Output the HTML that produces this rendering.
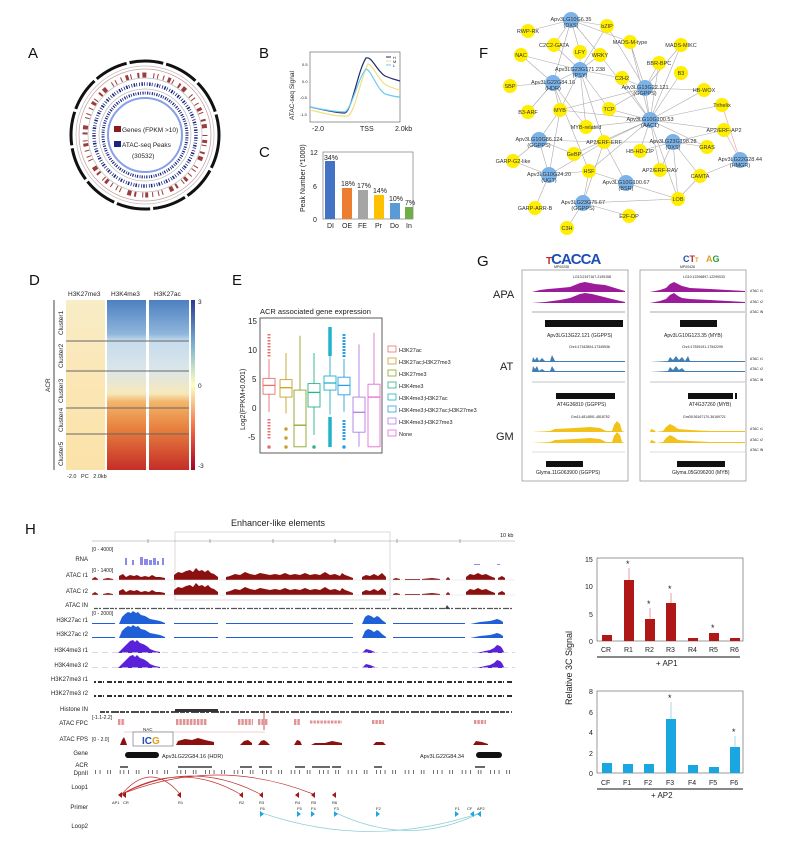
<!DOCTYPE html>
<html><head><meta charset="utf-8"><style>
html,body{margin:0;padding:0;background:#fff;}
svg{display:block;font-family:"Liberation Sans",Arial,sans-serif;}
</style></head><body>
<svg width="800" height="861" viewBox="0 0 800 861" xmlns="http://www.w3.org/2000/svg">
<defs>
<linearGradient id="hm1" x1="0" y1="0" x2="0" y2="1"><stop offset="0" stop-color="#f8edc8"/><stop offset="0.5" stop-color="#fbe6b4"/><stop offset="1" stop-color="#fbe2a8"/></linearGradient>
<linearGradient id="hm2" x1="0" y1="0" x2="0" y2="1">
<stop offset="0" stop-color="#4d7fc0"/><stop offset="0.2" stop-color="#8fb6dc"/><stop offset="0.24" stop-color="#c6dbec"/><stop offset="0.4" stop-color="#d9e5ea"/><stop offset="0.55" stop-color="#f7e8bc"/><stop offset="0.6" stop-color="#f2b56a"/><stop offset="0.75" stop-color="#e8823f"/><stop offset="1" stop-color="#c52d28"/></linearGradient>
<linearGradient id="cb" x1="0" y1="0" x2="0" y2="1"><stop offset="0" stop-color="#313695"/><stop offset="0.25" stop-color="#74add1"/><stop offset="0.5" stop-color="#ffffbf"/><stop offset="0.75" stop-color="#f46d43"/><stop offset="1" stop-color="#a50026"/></linearGradient>
<path id="atac" d="M92,0 L92,-1 L95,-3 L98,-1 L98,0 Z M103,0 L103,-1 L108,-2 L113,-1 L113,0 Z M119,0 L119,-4 L123,-6 L126,-3 L130,-5 L134,-4 L137,-5 L141,-3 L145,-4 L149,-3 L152,-5 L156,-3 L160,-3 L165,-2 L165,0 Z M174,0 L174,-5 L178,-8 L182,-7 L186,-9 L190,-10 L193,-8 L196,-12 L199,-9 L202,-10 L205,-8 L208,-10 L211,-7 L214,-6 L218,-3 L218,0 Z M226,0 L226,-3 L230,-4 L235,-6 L240,-5 L245,-8 L250,-6 L255,-5 L260,-7 L265,-6 L270,-5 L275,-6 L280,-5 L285,-7 L290,-5 L295,-6 L300,-5 L305,-7 L310,-5 L315,-6 L320,-5 L325,-8 L330,-5 L335,-6 L340,-4 L342,-7 L345,-5 L348,-4 L353,-2 L353,0 Z M362,0 L362,-3 L366,-5 L370,-4 L374,-6 L378,-4 L382,-7 L386,-3 L386,0 Z M393,0 L393,-1 L396,-2 L400,-1 L400,0 Z M405,0 L405,-1 L420,-1 L420,0 Z M422,0 L422,-1 L432,-2 L440,-1 L440,0 Z M446,0 L446,-1 L448,-3 L450,-1 L450,0 Z M466,0 L466,-3 L470,-6 L474,-5 L478,-7 L482,-5 L486,-6 L490,-4 L495,-2 L495,0 Z M498,0 L498,-2 L502,-4 L505,-2 L505,0 Z"/>
<path id="k27ac" d="M119,0 L122,-7 L125,-10 L128,-12 L131,-11 L133,-13 L136,-11 L138,-12 L141,-9 L145,-8 L150,-5 L155,-4 L160,-3 L165,-1 L165,0 Z M362,0 L365,-7 L368,-9 L371,-8 L374,-6 L377,-8 L379,-7 L382,-4 L386,-1 L386,0Z M470,0 L480,-2 L490,-3 L494,-4 L497,-5 L500,-4 L503,-2 L503,0Z M174,0 L174,-1 L218,-1 L218,0Z M226,0 L226,-1 L353,-1 L353,0Z M92,0 L92,-1 L115,-1 L115,0Z M393,0 L393,-1 L465,-1 L465,0Z"/>
<path id="k4" d="M118,0 L122,-4 L126,-8 L130,-12 L133,-13 L135,-11 L137,-13 L140,-10 L143,-9 L145,-8 L148,-6 L150,-4 L155,-2 L160,-1 L160,0Z M362,0 L366,-4 L370,-3 L375,-1 L375,0Z M477,0 L485,-2 L490,-3 L494,-5 L497,-8 L500,-7 L502,-5 L504,-1 L504,0Z"/>
</defs>

<!-- Panel labels -->
<g font-size="15" fill="#111">
<text x="28" y="58">A</text><text x="259" y="58">B</text><text x="259" y="157">C</text>
<text x="29" y="285">D</text><text x="232" y="285">E</text><text x="479" y="58">F</text>
<text x="477" y="266">G</text><text x="25" y="534">H</text></g>

<!-- A circos -->
<circle cx="145" cy="135" r="74" fill="none" stroke="#111" stroke-width="3" stroke-dasharray="34 3"/>
<circle cx="145" cy="135" r="69" fill="none" stroke="#bbb" stroke-width="0.7"/>
<circle cx="145" cy="135" r="66" fill="none" stroke="#c99" stroke-width="0.7"/>
<circle cx="145" cy="135" r="60" fill="none" stroke="#8b1a1a" stroke-width="5" stroke-dasharray="1 4 3 2 1 6 2 3 4 7 1 3 1 5" opacity="0.85"/>
<circle cx="145" cy="135" r="57" fill="none" stroke="#bbb" stroke-width="0.7"/>
<circle cx="145" cy="135" r="51" fill="none" stroke="#1a237e" stroke-width="3.5" stroke-dasharray="0.8 1.5 1.5 1.2 0.8 2"/>
<circle cx="145" cy="135" r="46" fill="none" stroke="#bbb" stroke-width="0.7"/>
<circle cx="145" cy="135" r="42" fill="none" stroke="#1a237e" stroke-width="3" stroke-dasharray="0.8 1.5 1.2 1.2"/>
<circle cx="145" cy="135" r="37" fill="#fff" stroke="#8aa0e6" stroke-width="2"/>
<g font-size="6.5" fill="#222">
<rect x="114" y="126" width="7" height="6" fill="#8b1a1a"/><text x="122" y="132">Genes (FPKM &gt;10)</text>
<rect x="114" y="141" width="7" height="6" fill="#1a237e"/><text x="122" y="147">ATAC-seq Peaks</text>
<text x="132" y="158">(30532)</text></g>

<!-- B -->
<g font-size="6" fill="#222">
<rect x="310" y="52" width="90" height="70" fill="none" stroke="#555" stroke-width="0.6"/>
<g font-size="4"><text x="302" y="66">0.5</text><text x="302" y="83">0.0</text><text x="300" y="99">-0.5</text><text x="300" y="116">-1.0</text></g>
<text transform="translate(294,120) rotate(-90)" font-size="6.5">ATAC-seq Signal</text>
<text x="312" y="131" font-size="7">-2.0</text><text x="360" y="131" font-size="7">TSS</text><text x="395" y="131" font-size="7">2.0kb</text>
<path d="M310,107 C320,109 335,113 345,113 C352,110 358,70 366,58 C372,56 376,70 385,76 C392,79 396,80 400,81" fill="none" stroke="#1e2a6a" stroke-width="1.2"/>
<path d="M310,110 C320,112 335,117 348,116 C355,112 360,80 368,64 C374,66 378,80 386,85 C392,88 396,89 400,90" fill="none" stroke="#f0e080" stroke-width="1.2"/>
<path d="M310,107 C320,109 335,112 345,112 C352,108 358,78 366,69 C372,71 376,88 385,94 C392,96 396,97 400,97" fill="none" stroke="#6ccaf0" stroke-width="1.2"/>
<line x1="386" y1="57" x2="391" y2="57" stroke="#1e2a6a"/><text x="393" y="59" font-size="4">H</text>
<line x1="386" y1="61" x2="391" y2="61" stroke="#f0e080"/><text x="393" y="63" font-size="4">M</text>
<line x1="386" y1="65" x2="391" y2="65" stroke="#6ccaf0"/><text x="393" y="67" font-size="4">L</text>
</g>

<!-- C -->
<g font-size="7" fill="#222">
<rect x="323" y="152" width="90" height="67" fill="none" stroke="#666" stroke-width="0.6"/>
<text x="310" y="155">12</text><text x="313" y="189">6</text><text x="313" y="222">0</text>
<text transform="translate(305,212) rotate(-90)">Peak Number (*1000)</text>
<rect x="325" y="161" width="10" height="58" fill="#4472c4"/><text x="324" y="160">34%</text>
<rect x="342" y="188" width="10" height="31" fill="#ed7d31"/><text x="341" y="186">18%</text>
<rect x="358" y="190" width="10" height="29" fill="#a5a5a5"/><text x="357" y="188">17%</text>
<rect x="374" y="195" width="10" height="24" fill="#ffc000"/><text x="373" y="193">14%</text>
<rect x="390" y="203" width="10" height="16" fill="#5b9bd5"/><text x="389" y="201">10%</text>
<rect x="405" y="207" width="8" height="12" fill="#70ad47"/><text x="405" y="205">7%</text>
<text x="327" y="228">DI</text><text x="342" y="228">OE</text><text x="358" y="228">FE</text><text x="375" y="228">Pr</text><text x="390" y="228">Do</text><text x="406" y="228">In</text>
</g>

<!-- D heatmaps -->
<g font-size="6.5" fill="#222">
<text x="68" y="296">H3K27me3</text><text x="111" y="296">H3K4me3</text><text x="154" y="296">H3K27ac</text>
<rect x="66" y="300" width="39" height="170" fill="url(#hm1)"/>
<rect x="107" y="300" width="39" height="170" fill="url(#hm2)"/>
<rect x="149" y="300" width="40" height="170" fill="url(#hm2)"/>
<rect x="191" y="300" width="4" height="170" fill="url(#cb)"/>
<text x="198" y="304">3</text><text x="198" y="388">0</text><text x="198" y="468">-3</text>
<g stroke="#666" stroke-width="1"><line x1="66" y1="341" x2="189" y2="341"/><line x1="66" y1="371" x2="189" y2="371"/><line x1="66" y1="408" x2="189" y2="408"/><line x1="66" y1="434" x2="189" y2="434"/></g>
<line x1="54" y1="300" x2="54" y2="470" stroke="#444" stroke-width="1"/>
<text transform="translate(50,392) rotate(-90)">ACR</text>
<text transform="translate(63,335) rotate(-90)">Cluster1</text>
<text transform="translate(63,368) rotate(-90)">Cluster2</text>
<text transform="translate(63,403) rotate(-90)">Cluster3</text>
<text transform="translate(63,432) rotate(-90)">Cluster4</text>
<text transform="translate(63,466) rotate(-90)">Cluster5</text>
<text x="67" y="478" font-size="5.5">-2.0&#160;&#160;&#160;PC&#160;&#160;&#160;2.0kb</text>
</g>

<!-- E boxplot -->
<g font-size="7" fill="#222">
<text x="260" y="314" font-size="7.5">ACR associated gene expression</text>
<rect x="260" y="318" width="122" height="135" fill="none" stroke="#333" stroke-width="0.8"/>
<text x="248" y="324" font-size="8">15</text><text x="248" y="353" font-size="8">10</text><text x="252" y="382" font-size="8">5</text><text x="252" y="411" font-size="8">0</text><text x="248" y="440" font-size="8">-5</text>
<text transform="translate(245,430) rotate(-90)">Log2(FPKM+0.001)</text>
<g fill="#fff" stroke-width="0.9">
<g stroke="#e8716f"><line x1="269" y1="359" x2="269" y2="412"/><rect x="263" y="378.4" width="12" height="15.8"/><line x1="263" y1="385.4" x2="275" y2="385.4" stroke-width="1.3"/><line x1="269" y1="334" x2="269" y2="357" stroke-width="3" stroke-dasharray="1.5 1.5"/><line x1="269" y1="419" x2="269" y2="440" stroke-width="3" stroke-dasharray="1.5 1.5"/><circle cx="269" cy="447" r="1.3" fill="#e8716f"/></g>
<g stroke="#c9a12a"><line x1="286" y1="353" x2="286" y2="413.5"/><rect x="280" y="379.6" width="12" height="17.5"/><line x1="280" y1="387.7" x2="292" y2="387.7" stroke-width="1.3"/><circle cx="286" cy="429" r="1.3" fill="#c9a12a"/><circle cx="286" cy="438" r="1.3" fill="#c9a12a"/><circle cx="286" cy="447" r="1.3" fill="#c9a12a"/></g>
<g stroke="#8ca62a"><line x1="300" y1="335.7" x2="300" y2="390"/><rect x="294" y="390.1" width="12" height="56.7"/><line x1="294" y1="425.2" x2="306" y2="425.2" stroke-width="1.3"/></g>
<g stroke="#2bb38a"><line x1="314" y1="353" x2="314" y2="435"/><rect x="308" y="383.6" width="12" height="23.4"/><line x1="308" y1="392.4" x2="320" y2="392.4" stroke-width="1.3"/><circle cx="314" cy="447" r="1.3" fill="#2bb38a"/></g>
<g stroke="#1fb3c9"><line x1="330" y1="356" x2="330" y2="414.6"/><rect x="324" y="376" width="12" height="14.1"/><line x1="324" y1="383" x2="336" y2="383" stroke-width="1.3"/><line x1="330" y1="327" x2="330" y2="356" stroke-width="3.5"/><line x1="330" y1="417" x2="330" y2="447" stroke-width="3.5"/></g>
<g stroke="#2e9fe0"><line x1="344" y1="359" x2="344" y2="411.7"/><rect x="338" y="377.2" width="12" height="17.6"/><line x1="338" y1="385.4" x2="350" y2="385.4" stroke-width="1.3"/><line x1="344" y1="334" x2="344" y2="358" stroke-width="3" stroke-dasharray="2 1"/><line x1="344" y1="420" x2="344" y2="440" stroke-width="3" stroke-dasharray="2 1"/><circle cx="344" cy="447" r="1.3" fill="#2e9fe0"/></g>
<g stroke="#b07ee8"><line x1="359" y1="344.4" x2="359" y2="446.8"/><rect x="353" y="397.1" width="12" height="35.1"/><line x1="353" y1="412.3" x2="365" y2="412.3" stroke-width="1.3"/></g>
<g stroke="#e36fd0"><line x1="374" y1="332.7" x2="374" y2="384"/><rect x="368" y="384.2" width="12" height="62.6"/><line x1="368" y1="397.1" x2="380" y2="397.1" stroke-width="1.3"/></g>
</g>
<g font-size="5.5">
<text x="399" y="352">H3K27ac</text><text x="399" y="364">H3K27ac;H3K27me3</text><text x="399" y="376">H3K27me3</text><text x="399" y="388">H3K4me3</text><text x="399" y="400">H3K4me3;H3K27ac</text><text x="399" y="412">H3K4me3;H3K27ac;H3K27me3</text><text x="399" y="424">H3K4me3;H3K27me3</text><text x="399" y="436">None</text></g>
<g fill="none" stroke-width="0.8">
<rect x="388" y="346" width="8" height="6" stroke="#e8716f"/><rect x="388" y="358" width="8" height="6" stroke="#c9a12a"/><rect x="388" y="370" width="8" height="6" stroke="#8ca62a"/><rect x="388" y="382" width="8" height="6" stroke="#2bb38a"/><rect x="388" y="394" width="8" height="6" stroke="#1fb3c9"/><rect x="388" y="406" width="8" height="6" stroke="#2e9fe0"/><rect x="388" y="418" width="8" height="6" stroke="#b07ee8"/><rect x="388" y="430" width="8" height="6" stroke="#e36fd0"/></g>
</g>

<!-- F network -->
<path fill="none" stroke="#aaa" stroke-width="0.6" d="M650,120L600,55M650,120L630,42M650,120L681,45M650,120L659,63M650,120L681,73M650,120L622,78M650,120L704,90M650,120L609,109M650,120L722,105M650,120L586,127M650,120L724,130M650,120L604,142M650,120L707,147M650,120L640,151M650,120L589,171M650,120L660,170M650,120L678,199M650,120L560,110M650,120L574,154M650,120L645,88
M645,88L607,26M645,88L630,42M645,88L681,45M645,88L659,63M645,88L704,90M645,88L609,109M645,88L560,110M645,88L622,78
M580,70L554,45M580,70L580,52M580,70L600,55M580,70L607,26M580,70L521,55M580,70L622,78M580,70L560,110M580,70L609,109M580,70L586,127M580,70L604,142M580,70L553,83
M553,83L510,86M553,83L528,112M553,83L560,110M553,83L521,55M553,83L586,127M553,83L589,171M553,83L571,20
M571,20L528,31M571,20L607,26M571,20L554,45M571,20L580,52M571,20L630,42M571,20L600,55
M673,142L707,147M673,142L660,170M673,142L700,176M673,142L678,199M673,142L604,142M673,142L724,130M673,142L640,151
M539,140L513,161M539,140L560,110M539,140L574,154M539,140L604,142M539,140L549,175
M549,175L513,161M549,175L535,208M549,175L560,110M549,175L589,171M549,175L604,142
M626,183L604,142M626,183L678,199M626,183L589,171M583,203L567,228M583,203L629,216M583,203L589,171M583,203L678,199M583,203L604,142M678,199L700,176M740,160L700,176"/>
<path fill="none" stroke="#e0a0a0" stroke-width="0.6" d="M722,105L740,160M724,130L740,160"/>
<g fill="#ffee00">
<circle cx="528" cy="31" r="7"/><circle cx="607" cy="26" r="7"/><circle cx="521" cy="55" r="7"/><circle cx="554" cy="45" r="7"/><circle cx="580" cy="52" r="7"/><circle cx="600" cy="55" r="7"/><circle cx="630" cy="42" r="7"/><circle cx="681" cy="45" r="7"/><circle cx="659" cy="63" r="7"/><circle cx="681" cy="73" r="7"/><circle cx="622" cy="78" r="7"/><circle cx="510" cy="86" r="7"/><circle cx="704" cy="90" r="7"/><circle cx="528" cy="112" r="7"/><circle cx="560" cy="110" r="7"/><circle cx="609" cy="109" r="7"/><circle cx="722" cy="105" r="7"/><circle cx="586" cy="127" r="7"/><circle cx="724" cy="130" r="7"/><circle cx="604" cy="142" r="7"/><circle cx="707" cy="147" r="7"/><circle cx="574" cy="154" r="7"/><circle cx="640" cy="151" r="7"/><circle cx="513" cy="161" r="7"/><circle cx="589" cy="171" r="7"/><circle cx="660" cy="170" r="7"/><circle cx="700" cy="176" r="7"/><circle cx="678" cy="199" r="7"/><circle cx="535" cy="208" r="7"/><circle cx="629" cy="216" r="7"/><circle cx="567" cy="228" r="7"/></g>
<g fill="#7bb3e8">
<circle cx="571" cy="20" r="8"/><circle cx="580" cy="70" r="8"/><circle cx="553" cy="83" r="8"/><circle cx="645" cy="88" r="8"/><circle cx="650" cy="120" r="8"/><circle cx="673" cy="142" r="8"/><circle cx="539" cy="140" r="8"/><circle cx="549" cy="175" r="8"/><circle cx="626" cy="183" r="8"/><circle cx="583" cy="203" r="8"/><circle cx="740" cy="160" r="8"/></g>
<g font-size="5.5" fill="#333" text-anchor="middle">
<text x="528" y="33">RWP-RK</text><text x="607" y="28">bZIP</text><text x="521" y="57">NAC</text><text x="554" y="47">C2C2-GATA</text><text x="580" y="54">LFY</text><text x="600" y="57">WRKY</text><text x="630" y="44">MADS-M-type</text><text x="681" y="47">MADS-MIKC</text><text x="659" y="65">BBR-BPC</text><text x="681" y="75">B3</text><text x="622" y="80">C2H2</text><text x="510" y="88">SBP</text><text x="704" y="92">HB-WOX</text><text x="528" y="114">B3-ARF</text><text x="560" y="112">MYB</text><text x="609" y="111">TCP</text><text x="722" y="107">Trihelix</text><text x="586" y="129">MYB-related</text><text x="724" y="132">AP2/ERF-AP2</text><text x="604" y="144">AP2/ERF-ERF</text><text x="707" y="149">GRAS</text><text x="574" y="156">GeBP</text><text x="640" y="153">HB-HD-ZIP</text><text x="513" y="163">GARP-G2-like</text><text x="589" y="173">HSF</text><text x="660" y="172">AP2/ERF-RAV</text><text x="700" y="178">CAMTA</text><text x="678" y="201">LOB</text><text x="535" y="210">GARP-ARR-B</text><text x="629" y="218">E2F-DP</text><text x="567" y="230">C3H</text>
<text x="571" y="21">Apv3LG10G6.35</text><text x="571" y="27">(DXS)</text>
<text x="580" y="71">Apv3LG23G171.238</text><text x="580" y="77">(PSY)</text>
<text x="553" y="84">Apv3LG22G84.16</text><text x="553" y="90">(HDR)</text>
<text x="645" y="89">Apv3LG13G22.121</text><text x="645" y="95">(GGPPS)</text>
<text x="650" y="121">Apv3LG10G100.53</text><text x="650" y="127">(AAC1)</text>
<text x="673" y="143">Apv3LG23G198.28</text><text x="673" y="149">(DXS)</text>
<text x="539" y="141">Apv3LG10G86.124</text><text x="539" y="147">(GGPPS)</text>
<text x="549" y="176">Apv3LG10G24.20</text><text x="549" y="182">(UGT)</text>
<text x="626" y="184">Apv3LG10G100.67</text><text x="626" y="190">(BSR)</text>
<text x="583" y="204">Apv3LG23G75.67</text><text x="583" y="210">(GGPPS)</text>
<text x="740" y="161">Apv3LG22G28.44</text><text x="740" y="167">(HMGR)</text>
</g>

<!-- G -->
<g font-size="5" fill="#222">
<text x="546" y="264" font-size="15" font-weight="bold" fill="#1f4fb5" letter-spacing="-1"><tspan fill="#c0282a" font-size="10">T</tspan>CACCA</text>
<text x="554" y="268" font-size="3.5">MP00208</text>
<text x="683" y="262" font-size="9" font-weight="bold" fill="#1f4fb5">C<tspan fill="#c0282a">T</tspan><tspan fill="#e0a020" font-size="6">T</tspan></text>
<text x="706" y="262" font-size="9" font-weight="bold" fill="#e0a020">A<tspan fill="#2b9b3b">G</tspan></text>
<text x="680" y="268" font-size="3.5">MP00426</text>
<rect x="522" y="270" width="106" height="211" fill="none" stroke="#999" stroke-width="0.8"/>
<rect x="640" y="270" width="106" height="211" fill="none" stroke="#999" stroke-width="0.8"/>
<text x="493" y="298" font-size="11">APA</text><text x="500" y="370" font-size="11">AT</text><text x="496" y="440" font-size="11">GM</text>
<text x="573" y="278" font-size="3.5">LG13:2197167-2199158</text><text x="683" y="278" font-size="3.5">LG10:12296897-12299033</text>
<text x="569" y="348" font-size="3.5">Chr4:17342804-17345536</text><text x="682" y="348" font-size="3.5">Chr4:17539191-17542299</text>
<text x="571" y="418" font-size="3.5">Gm11:4814891-4818752</text><text x="683" y="418" font-size="3.5">Gm05:36167170-36169721</text>
<rect x="545" y="320" width="78" height="7" fill="#111"/><rect x="680" y="320" width="37" height="7" fill="#111"/>
<rect x="556" y="393" width="59" height="6" fill="#111"/><rect x="688" y="393" width="45" height="6" fill="#111"/><rect x="735" y="393" width="2" height="6" fill="#111"/>
<rect x="546" y="461" width="37" height="6" fill="#111"/><rect x="677" y="461" width="48" height="6" fill="#111"/>
<text x="547" y="337" font-size="5">Apv3LG13G22.121 (GGPPS)</text><text x="664" y="337" font-size="5">Apv3LG10G123.35 (MYB)</text>
<text x="557" y="406" font-size="5">AT4G36810 (GGPPS)</text><text x="689" y="406" font-size="5">AT4G37260 (MYB)</text>
<text x="536" y="474" font-size="5">Glyma.11G063900 (GGPPS)</text><text x="672" y="474" font-size="5">Glyma.05G096200 (MYB)</text>
<g font-size="3.5"><text x="750" y="292">ATAC r1</text><text x="750" y="303">ATAC r2</text><text x="750" y="313">ATAC IN</text>
<text x="750" y="360">ATAC r1</text><text x="750" y="370">ATAC r2</text><text x="750" y="381">ATAC IN</text>
<text x="750" y="430">ATAC r1</text><text x="750" y="441">ATAC r2</text><text x="750" y="451">ATAC IN</text></g>
</g>
<g stroke-width="0.6">
<path d="M532,292 L540,290 L548,289 L560,288 L570,287 L575,285 L580,283 L585,282 L590,283 L595,284 L605,285 L615,288 L625,291 L625,292Z" fill="#9b1c9b"/>
<path d="M532,303 L545,302 L560,300 L570,298 L575,296 L580,294 L585,293 L592,294 L600,296 L612,299 L625,302 L625,303Z" fill="#9b1c9b"/>
<line x1="532" y1="312" x2="625" y2="312" stroke="#555"/>
<path d="M650,292 L660,290 L666,288 L670,284 L674,282 L678,284 L682,286 L690,288 L710,289 L745,291 L745,292Z" fill="#9b1c9b"/>
<path d="M650,303 L660,301 L666,299 L670,295 L674,293 L678,296 L682,298 L690,299 L710,300 L745,302 L745,303Z" fill="#9b1c9b"/>
<line x1="650" y1="312" x2="745" y2="312" stroke="#555"/>
<path d="M532,362 L533,357 L535,360 L537,357 L539,361 L542,358 L545,361 L550,361 L552,355 L555,361 L625,361 L625,362Z" fill="#3f7fb5"/>
<path d="M532,372 L533,366 L535,369 L537,366 L539,371 L542,369 L545,371 L550,371 L552,366 L555,371 L625,371 L625,372Z" fill="#3f7fb5"/>
<line x1="532" y1="382" x2="625" y2="382" stroke="#888"/>
<path d="M650,362 L668,361 L670,357 L673,360 L676,356 L679,360 L682,357 L685,361 L688,356 L690,361 L745,361 L745,362Z" fill="#3f7fb5"/>
<path d="M650,372 L668,371 L670,367 L673,370 L676,366 L679,370 L682,368 L685,371 L745,371 L745,372Z" fill="#3f7fb5"/>
<line x1="650" y1="382" x2="745" y2="382" stroke="#888"/>
<path d="M532,432 L550,431 L555,429 L575,428 L590,427 L600,428 L606,431 L612,431 L614,425 L617,421 L620,424 L622,431 L625,432Z" fill="#f2c21a"/>
<path d="M532,443 L550,442 L555,440 L575,439 L590,438 L600,439 L606,442 L612,442 L614,436 L617,432 L620,435 L622,442 L625,443Z" fill="#f2c21a"/>
<line x1="532" y1="452" x2="625" y2="452" stroke="#bbb"/>
<path d="M650,432 L651,429 L654,430 L656,432 L663,431 L666,427 L670,424 L674,426 L678,429 L690,430 L710,431 L745,431 L745,432Z" fill="#f2c21a"/>
<path d="M650,443 L651,440 L654,441 L656,443 L663,442 L666,438 L670,435 L674,437 L678,440 L690,441 L710,442 L745,442 L745,443Z" fill="#f2c21a"/>
<line x1="650" y1="452" x2="745" y2="452" stroke="#bbb"/>
</g>

<!-- H -->
<g font-size="7" fill="#222">
<text x="231" y="526" font-size="9">Enhancer-like elements</text>
<text x="500" y="537" font-size="5.5">10 kb</text>
<rect x="175" y="532" width="215" height="68" fill="none" stroke="#d8c8c8" stroke-width="0.7"/>
<line x1="92" y1="541" x2="515" y2="541" stroke="#999" stroke-width="0.6"/>
<g stroke="#777" stroke-width="0.6"><line x1="148" y1="539" x2="148" y2="543"/><line x1="210" y1="539" x2="210" y2="543"/><line x1="273" y1="539" x2="273" y2="543"/><line x1="335" y1="539" x2="335" y2="543"/><line x1="397" y1="539" x2="397" y2="543"/><line x1="460" y1="539" x2="460" y2="543"/></g>
<g font-size="5"><text x="92" y="551">[0 - 4000]</text><text x="92" y="572">[0 - 1400]</text><text x="92" y="615">[0 - 2000]</text><text x="92" y="719">[-1.1-2.2]</text><text x="92" y="741">[0 - 2.0]</text></g>
<g text-anchor="end" font-size="6">
<text x="88" y="561">RNA</text><text x="88" y="577">ATAC r1</text><text x="88" y="593">ATAC r2</text><text x="88" y="607">ATAC IN</text>
<text x="88" y="622">H3K27ac r1</text><text x="88" y="636">H3K27ac r2</text><text x="88" y="652">H3K4me3 r1</text><text x="88" y="667">H3K4me3 r2</text>
<text x="88" y="681">H3K27me3 r1</text><text x="88" y="695">H3K27me3 r2</text><text x="88" y="711">Histone IN</text><text x="88" y="725">ATAC FPC</text><text x="88" y="741">ATAC FPS</text>
<text x="88" y="755">Gene</text><text x="88" y="767">ACR</text><text x="88" y="775">DpnII</text><text x="88" y="789">Loop1</text><text x="88" y="809">Primer</text><text x="88" y="828">Loop2</text></g>
</g>
<g fill="#8a8ae8"><rect x="125" y="558" width="2" height="7"/><rect x="132" y="560" width="2" height="5"/><rect x="140" y="557" width="3" height="8"/><rect x="144" y="559" width="4" height="6"/><rect x="149" y="560" width="3" height="5"/><rect x="153" y="558" width="3" height="7"/><rect x="157" y="561" width="2" height="4"/><rect x="162" y="558" width="2" height="7"/><rect x="474" y="564" width="6" height="1"/><rect x="497" y="564" width="3" height="1"/></g>
<g fill="#8b1010"><use href="#atac" x="0" y="580"/><use href="#atac" x="0" y="595"/></g>
<line x1="92" y1="580" x2="515" y2="580" stroke="#ddd" stroke-width="0.5"/><line x1="92" y1="595" x2="515" y2="595" stroke="#ddd" stroke-width="0.5"/>
<line x1="94" y1="608.5" x2="512" y2="608.5" stroke="#555" stroke-width="1.2" stroke-dasharray="4 1 2 2 6 1"/>
<path d="M445,609 L447,605 L450,609Z" fill="#444"/>
<g fill="#1f5fd8"><use href="#k27ac" x="0" y="624"/><use href="#k27ac" x="0" y="638"/></g>
<g fill="#5a22d8"><use href="#k4" x="0" y="653"/><use href="#k4" x="0" y="668"/></g>
<g stroke="#ccd" stroke-width="0.8" stroke-dasharray="6 4"><line x1="92" y1="652.5" x2="515" y2="652.5"/><line x1="92" y1="667.5" x2="515" y2="667.5"/></g>
<g stroke="#111" stroke-width="1.8" stroke-dasharray="2 2 4 1 1 3 5 2"><line x1="94" y1="682" x2="512" y2="682"/><line x1="94" y1="696" x2="512" y2="696"/></g>
<g stroke="#333" stroke-width="1.8" stroke-dasharray="5 1 3 2 8 1"><line x1="100" y1="712" x2="512" y2="712"/></g>
<rect x="175" y="709" width="43" height="3" fill="#333"/>
<g stroke="#c0282a" stroke-width="6" stroke-dasharray="0.5 0.9">
<line x1="118" y1="722" x2="125" y2="722"/><line x1="176" y1="722" x2="207" y2="722"/><line x1="238" y1="722" x2="253" y2="722"/><line x1="258" y1="722" x2="268" y2="722"/><line x1="294" y1="722" x2="300" y2="722"/><line x1="310" y1="722" x2="342" y2="722" stroke-width="3"/><line x1="372" y1="722" x2="384" y2="722" stroke-width="4"/><line x1="474" y1="722" x2="486" y2="722" stroke-width="4"/></g>
<line x1="264" y1="712" x2="264" y2="730" stroke="#c0282a" stroke-width="0.8"/>
<line x1="124" y1="732" x2="265" y2="732" stroke="#e8a0a0" stroke-width="0.6"/>
<rect x="133" y="732" width="40" height="14" fill="#fff" stroke="#666" stroke-width="0.6"/>
<text x="143" y="731" font-size="4.5" fill="#222">NAC</text>
<text x="142" y="744" font-size="10" font-weight="bold" fill="#1f4fb5">IC<tspan fill="#e0a020">G</tspan></text>
<path fill="#8b1010" d="M120,745 L122,740 L124,737 L126,742 L127,745Z M176,745 L178,741 L185,739 L192,740 L198,738 L205,740 L214,742 L214,745Z M240,745 L244,741 L248,740 L252,743 L252,745Z M258,745 L261,741 L264,740 L267,742 L270,745Z M294,745 L297,740 L300,741 L302,745Z M311,745 L315,743 L325,743 L332,741 L342,743 L342,745Z M373,745 L376,742 L383,742 L386,745Z M473,745 L476,741 L482,742 L488,744 L488,745Z"/>
<rect x="125" y="752" width="34" height="6" rx="3" fill="#111"/><text x="162" y="758" font-size="5.5" fill="#222">Apv3LG22G84.16 (HDR)</text>
<rect x="476" y="752" width="26" height="6" rx="3" fill="#111"/><text x="420" y="758" font-size="5.5" fill="#222">Apv3LG22G84.34</text>
<path stroke="#111" stroke-width="1.2" d="M120,767L128,767M178,767L212,767M240,767L252,767M259,767L272,767M295,767L305,767M312,767L330,767M332,767L341,767M374,767L382,767M475,767L485,767"/>
<line x1="95" y1="772" x2="512" y2="772" stroke="#333" stroke-width="4" stroke-dasharray="0.7 4 0.7 7 0.7 2 0.7 9 0.7 3"/>
<path fill="none" stroke="#c03030" stroke-width="0.7" d="M122,794Q151,760 180,794M122,794Q181,760 240,794M122,794Q191,758 260,794M122,794Q217,756 313,794"/>
<path fill="none" stroke="#8ccfd8" stroke-width="0.7" d="M262,813Q370,850 480,813M336,813Q410,848 480,813"/>
<path fill="#a01818" d="M122,792L118,795L122,798ZM126,792L122,795L126,798ZM181,792L177,795L181,798ZM243,792L239,795L243,798ZM263,792L259,795L263,798ZM299,792L295,795L299,798ZM315,792L311,795L315,798ZM336,792L332,795L336,798Z"/>
<path fill="#1aa6e0" d="M260,811L264,814L260,817ZM297,811L301,814L297,817ZM311,811L315,814L311,817ZM334,811L338,814L334,817ZM376,811L380,814L376,817ZM455,811L459,814L455,817ZM474,811L470,814L474,817ZM481,811L477,814L481,817Z"/>
<g font-size="4" fill="#222">
<text x="112" y="804">AP1</text><text x="123" y="804">CR</text><text x="178" y="804">R1</text><text x="239" y="804">R2</text><text x="259" y="804">R3</text><text x="295" y="804">R4</text><text x="311" y="804">R5</text><text x="332" y="804">R6</text>
<text x="260" y="810">F6</text><text x="297" y="810">F5</text><text x="311" y="810">F4</text><text x="334" y="810">F3</text><text x="376" y="810">F2</text><text x="455" y="810">F1</text><text x="467" y="810">CF</text><text x="477" y="810">AP2</text>
</g>

<!-- 3C bars -->
<g font-size="7" fill="#222">
<rect x="597" y="558" width="146" height="83" fill="none" stroke="#555" stroke-width="0.6"/>
<text x="585" y="562">15</text><text x="585" y="589">10</text><text x="589" y="617">5</text><text x="589" y="644">0</text>
<g fill="#b01818">
<rect x="602" y="635" width="10" height="6"/><rect x="624" y="580" width="10" height="61"/><rect x="645" y="619" width="10" height="22"/><rect x="666" y="603" width="10" height="38"/><rect x="688" y="638" width="10" height="3"/><rect x="709" y="633" width="10" height="8"/><rect x="730" y="638" width="10" height="3"/></g>
<g stroke="#d88" stroke-width="0.8"><line x1="629" y1="580" x2="629" y2="568"/><line x1="650" y1="619" x2="650" y2="608"/><line x1="671" y1="603" x2="671" y2="593"/></g>
<g font-size="9"><text x="626" y="567">*</text><text x="647" y="607">*</text><text x="668" y="592">*</text><text x="711" y="631">*</text></g>
<text x="601" y="652">CR</text><text x="624" y="652">R1</text><text x="645" y="652">R2</text><text x="666" y="652">R3</text><text x="688" y="652">R4</text><text x="709" y="652">R5</text><text x="730" y="652">R6</text>
<line x1="597" y1="657" x2="740" y2="657" stroke="#111" stroke-width="1"/>
<text x="656" y="666" font-size="8">+ AP1</text>
<text transform="translate(572,705) rotate(-90)" font-size="9">Relative 3C Signal</text>
<rect x="597" y="691" width="146" height="82" fill="none" stroke="#555" stroke-width="0.6"/>
<text x="589" y="694">8</text><text x="589" y="715">6</text><text x="589" y="735">4</text><text x="589" y="756">2</text><text x="589" y="776">0</text>
<g fill="#1aa6e0">
<rect x="602" y="763" width="10" height="10"/><rect x="623" y="764" width="10" height="9"/><rect x="644" y="764" width="10" height="9"/><rect x="666" y="719" width="10" height="54"/><rect x="688" y="765" width="10" height="8"/><rect x="709" y="767" width="10" height="6"/><rect x="730" y="747" width="10" height="26"/></g>
<g stroke="#9cd" stroke-width="0.8"><line x1="671" y1="719" x2="671" y2="702"/><line x1="735" y1="747" x2="735" y2="736"/></g>
<g font-size="9"><text x="668" y="701">*</text><text x="732" y="735">*</text></g>
<text x="601" y="785">CF</text><text x="623" y="785">F1</text><text x="644" y="785">F2</text><text x="666" y="785">F3</text><text x="688" y="785">F4</text><text x="709" y="785">F5</text><text x="730" y="785">F6</text>
<line x1="597" y1="789" x2="743" y2="789" stroke="#111" stroke-width="1"/>
<text x="651" y="798" font-size="8">+ AP2</text>
</g>
</svg>
</body></html>
